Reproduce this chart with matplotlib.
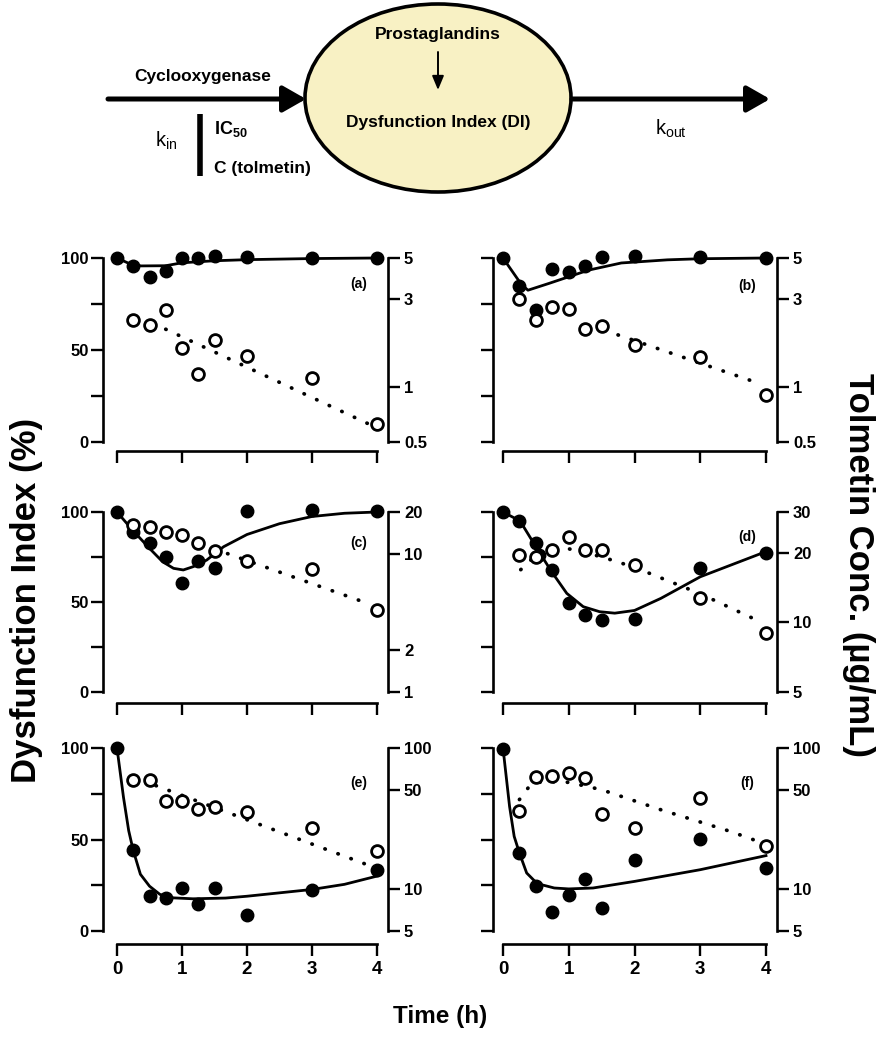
import numpy as np
import matplotlib.pyplot as plt
from matplotlib.patches import Ellipse
from matplotlib.ticker import NullLocator

plt.rcParams['font.family'] = ['Liberation Sans', 'DejaVu Sans']
plt.rcParams['font.weight'] = 'bold'
plt.rcParams['mathtext.default'] = 'regular'

W, H = 882, 1050

# ---- data ----
# (a)
t_di_a = [0, 0.25, 0.5, 0.75, 1, 1.25, 1.5, 2, 3, 4]
di_a = [100, 95.5, 89.8, 93, 100, 100, 101, 100.5, 100, 100]
t_fit_a = [0, 0.2, 0.37, 0.75, 1, 1.5, 2, 3, 4]
fit_a = [100, 96.8, 95.7, 95.8, 97.4, 98.5, 99.1, 99.7, 100]
t_c_a = [0.25, 0.5, 0.75, 1, 1.25, 1.5, 2, 3, 4]
conc_a = [2.30, 2.16, 2.60, 1.63, 1.17, 1.79, 1.46, 1.11, 0.63]
t_cfit_a = [0.75, 3.9]
cfit_a = [2.05, 0.62]

# (b)
t_di_b = [0, 0.25, 0.5, 0.75, 1, 1.25, 1.5, 2, 3, 4]
di_b = [100, 84.9, 71.6, 94, 92.5, 95.8, 100.7, 101.3, 100.7, 100]
t_fit_b = [0, 0.28, 0.38, 0.7, 1.0, 1.3, 1.8, 2.5, 3, 4]
fit_b = [100, 85.6, 82.5, 86.2, 89.8, 93.4, 97.3, 99.0, 99.6, 100]
t_c_b = [0.25, 0.5, 0.75, 1, 1.25, 1.5, 2, 3, 4]
conc_b = [3.0, 2.29, 2.7, 2.65, 2.05, 2.13, 1.69, 1.45, 0.90]
t_cfit_b = [1.55, 3.9]
cfit_b = [2.02, 1.04]

# (c)
t_di_c = [0, 0.25, 0.5, 0.75, 1, 1.25, 1.5, 2, 3, 4]
di_c = [100, 89, 82.6, 75.2, 60.4, 72.9, 68.7, 100.7, 101, 100.8]
t_fit_c = [0, 0.25, 0.5, 0.7, 0.87, 1.02, 1.17, 1.38, 1.64, 2.0, 2.5, 3.0, 3.5, 4.0]
fit_c = [100, 89.5, 79.8, 72.4, 68.7, 67.8, 69.6, 73.3, 80.7, 87.5, 93.5, 97.5, 99.3, 100]
t_c_c = [0.25, 0.5, 0.75, 1, 1.25, 1.5, 2, 3, 4]
conc_c = [16.1, 15.6, 14.4, 13.6, 11.9, 10.5, 8.9, 7.8, 3.9]
t_cfit_c = [1.5, 3.9]
cfit_c = [10.8, 4.3]

# (d)
t_di_d = [0, 0.25, 0.5, 0.55, 0.75, 1, 1.25, 1.5, 2, 3, 4]
di_d = [100, 95.2, 83, 76, 67.8, 49.3, 42.8, 40, 40.6, 69, 77.4]
t_fit_d = [0, 0.26, 0.5, 0.74, 0.97, 1.22, 1.47, 1.7, 2.0, 2.4, 3.0, 3.5, 4.0]
fit_d = [100, 95, 80.7, 66.8, 54.8, 47.4, 44.6, 43.8, 45.3, 52, 64, 71, 78]
t_c_d = [0.25, 0.5, 0.75, 1, 1.25, 1.5, 2, 3, 4]
conc_d = [19.5, 19.1, 20.5, 23.3, 20.5, 20.6, 17.7, 12.7, 8.96]
t_cfit_d = [0.27, 0.5, 0.75, 1.0, 1.5, 2.0, 3.0, 3.9]
cfit_d = [16.9, 19.5, 20.6, 20.8, 19.2, 17.3, 13.3, 10.1]

# (e)
t_di_e = [0, 0.25, 0.5, 0.75, 1, 1.25, 1.5, 2, 3, 4]
di_e = [100, 44.1, 19.1, 18.1, 23.6, 14.8, 23.6, 8.6, 22.2, 33.3]
t_fit_e = [0, 0.1, 0.18, 0.25, 0.36, 0.5, 0.66, 0.87, 1.17, 1.67, 2, 3, 3.5, 4]
fit_e = [100, 73, 54.8, 44, 31, 24.5, 20, 18.1, 17.6, 18, 19, 22.7, 25.5, 30]
t_c_e = [0.25, 0.5, 0.75, 1, 1.25, 1.5, 2, 3, 4]
conc_e = [58.8, 58.8, 41.8, 41.8, 36.9, 37.9, 34.9, 26.8, 18.6]
t_cfit_e = [0.6, 3.9]
cfit_e = [54, 14.5]

# (f)
t_di_f = [0, 0.25, 0.5, 0.75, 1, 1.25, 1.5, 2, 3, 4]
di_f = [99.5, 42.6, 24.8, 10.2, 19.8, 28.4, 12.6, 39, 50.3, 34.4]
t_fit_f = [0, 0.1, 0.17, 0.25, 0.36, 0.52, 0.78, 1.0, 1.37, 2, 3, 4]
fit_f = [100, 68, 51.7, 42.6, 31.7, 25.9, 23.5, 23, 23.5, 27.1, 33.5, 41.2]
t_c_f = [0.25, 0.5, 0.75, 1, 1.25, 1.5, 2, 3, 4]
conc_f = [35.5, 62.2, 63.6, 66.4, 61.2, 34.1, 27.0, 44.1, 20.0]
t_cfit_f = [0.25, 0.4, 0.6, 1.0, 1.5, 2.4, 3.45, 3.95]
cfit_f = [43, 53.4, 58, 57, 50.5, 36.4, 25.6, 21.1]

conc_ticks_ab = [0.5, 1, 3, 5]
conc_ticks_c = [1, 2, 10, 20]
conc_ticks_d = [5, 10, 20, 30]
conc_ticks_ef = [5, 10, 50, 100]

time_ticks = [0, 1, 2, 3, 4]
di_ticks = [0, 25, 50, 75, 100]
di_labels = ['0', '', '50', '', '100']

fig = plt.figure(figsize=(W / 100, H / 100), dpi=100)

# ---- scheme at the top ----
dg = fig.add_axes([0, 1 - 200 / H, 1, 200 / H])
dg.set_xlim(0, W)
dg.set_ylim(200, 0)
dg.axis('off')
dg.add_patch(Ellipse((438, 98), 266, 188, fc='#f8f1c4', ec='k', lw=2.6))
arrow = dict(arrowstyle='-|>,head_length=0.7,head_width=0.4', lw=3.6, color='k',
             mutation_scale=20, shrinkA=0, shrinkB=0)
dg.annotate('', xy=(306, 99), xytext=(108, 99), arrowprops=arrow)
dg.annotate('', xy=(770, 99), xytext=(572, 99), arrowprops=arrow)
dg.annotate('', xy=(438, 90), xytext=(438, 52),
            arrowprops=dict(arrowstyle='-|>,head_length=0.6,head_width=0.25', lw=1.4,
                            color='k', mutation_scale=14, shrinkA=0, shrinkB=0))
dg.plot([200, 200], [114, 176], color='k', lw=4, solid_capstyle='butt')
dg.text(203, 76, 'Cyclooxygenase', fontsize=12.5, ha='center', va='center')
dg.text(166, 141, 'k$_{in}$', fontsize=14.5, ha='center', va='center', fontweight='normal')
dg.text(214, 129, 'IC$_{50}$', fontsize=13, ha='left', va='center')
dg.text(214, 168, 'C (tolmetin)', fontsize=12.5, ha='left', va='center')
dg.text(438, 34, 'Prostaglandins', fontsize=12.5, ha='center', va='center')
dg.text(438, 123, 'Dysfunction Index (DI)', fontsize=12.5, ha='center', va='center')
dg.text(671, 129, 'k$_{out}$', fontsize=14.5, ha='center', va='center', fontweight='normal')

# ---- panels ----
col_x = [(103, 388, 117, 377), (493, 777, 503, 766)]
row_y = [(258, 442, 9), (512, 692, 11), (748, 931, 13)]

panels = [
    ('(a)', 0, 0, t_di_a, di_a, t_fit_a, fit_a, t_c_a, conc_a, t_cfit_a, cfit_a, conc_ticks_ab, 86),
    ('(b)', 1, 0, t_di_b, di_b, t_fit_b, fit_b, t_c_b, conc_b, t_cfit_b, cfit_b, conc_ticks_ab, 85),
    ('(c)', 0, 1, t_di_c, di_c, t_fit_c, fit_c, t_c_c, conc_c, t_cfit_c, cfit_c, conc_ticks_c, 83),
    ('(d)', 1, 1, t_di_d, di_d, t_fit_d, fit_d, t_c_d, conc_d, t_cfit_d, cfit_d, conc_ticks_d, 86),
    ('(e)', 0, 2, t_di_e, di_e, t_fit_e, fit_e, t_c_e, conc_e, t_cfit_e, cfit_e, conc_ticks_ef, 81),
    ('(f)', 1, 2, t_di_f, di_f, t_fit_f, fit_f, t_c_f, conc_f, t_cfit_f, cfit_f, conc_ticks_ef, 81),
]

for name, col, row, tdi, di, tfit, fit, tc, conc, tcf, cf, cticks, ylab in panels:
    xl, xr, x0, x4 = col_x[col]
    y100, y0, off = row_y[row]
    ax = fig.add_axes([xl / W, 1 - y0 / H, (xr - xl) / W, (y0 - y100) / H])
    ppu = (x4 - x0) / 4
    ax.set_xlim((xl - x0) / ppu, (xr - x0) / ppu)
    ax.set_ylim(0, 100)
    ax.patch.set_visible(False)

    ax2 = ax.twinx()
    ax2.set_yscale('log')
    ax2.set_ylim(cticks[0], cticks[-1])

    ax.plot(tfit, fit, color='k', lw=2.0, clip_on=False, zorder=3)
    ax.plot(tdi, di, 'o', ms=9, color='k', clip_on=False, zorder=4)
    ax2.plot(tcf, cf, color='k', lw=2.7, ls=(0, (0.1, 3.6)), dash_capstyle='round',
             clip_on=False)
    ax2.plot(tc, conc, 'o', ms=8.5, mfc='white', mec='k', mew=2.0, clip_on=False)

    for s in ['top', 'right']:
        ax.spines[s].set_visible(False)
    for s in ['top', 'left', 'bottom']:
        ax2.spines[s].set_visible(False)
    ax.spines['left'].set_linewidth(1.9)
    ax.spines['bottom'].set_linewidth(1.9)
    ax2.spines['right'].set_linewidth(1.9)
    ax.spines['bottom'].set_position(('outward', off * 0.72))
    ax.spines['bottom'].set_bounds(0, 4)

    ax.set_xticks(time_ticks)
    ax.set_xticklabels([str(v) for v in time_ticks] if row == 2 else [])
    ax.set_yticks(di_ticks)
    ax.set_yticklabels(di_labels if col == 0 else [])
    ax2.set_yticks(cticks)
    ax2.set_yticklabels([('%g' % v) for v in cticks])
    ax2.yaxis.set_minor_locator(NullLocator())

    ax.tick_params(axis='y', direction='out', length=8.5, width=1.7, labelsize=12, pad=2)
    ax.tick_params(axis='x', direction='out', length=8.5, width=1.7, labelsize=13.5, pad=4)
    ax2.tick_params(axis='y', direction='out', length=8.5, width=1.7, labelsize=12, pad=3)

    ax.text(3.72, ylab, name, fontsize=10, ha='center', va='center', zorder=5)

fig.text(27 / W, 1 - 600 / H, 'Dysfunction Index (%)', rotation=90, ha='center',
         va='center', fontsize=25)
fig.text(858 / W, 1 - 565 / H, 'Tolmetin Conc. (µg/mL)', rotation=270, ha='center',
         va='center', fontsize=25)
fig.text(440 / W, 1 - 1017 / H, 'Time (h)', ha='center', va='center', fontsize=17.5)

fig.savefig('out.png', dpi=100)
